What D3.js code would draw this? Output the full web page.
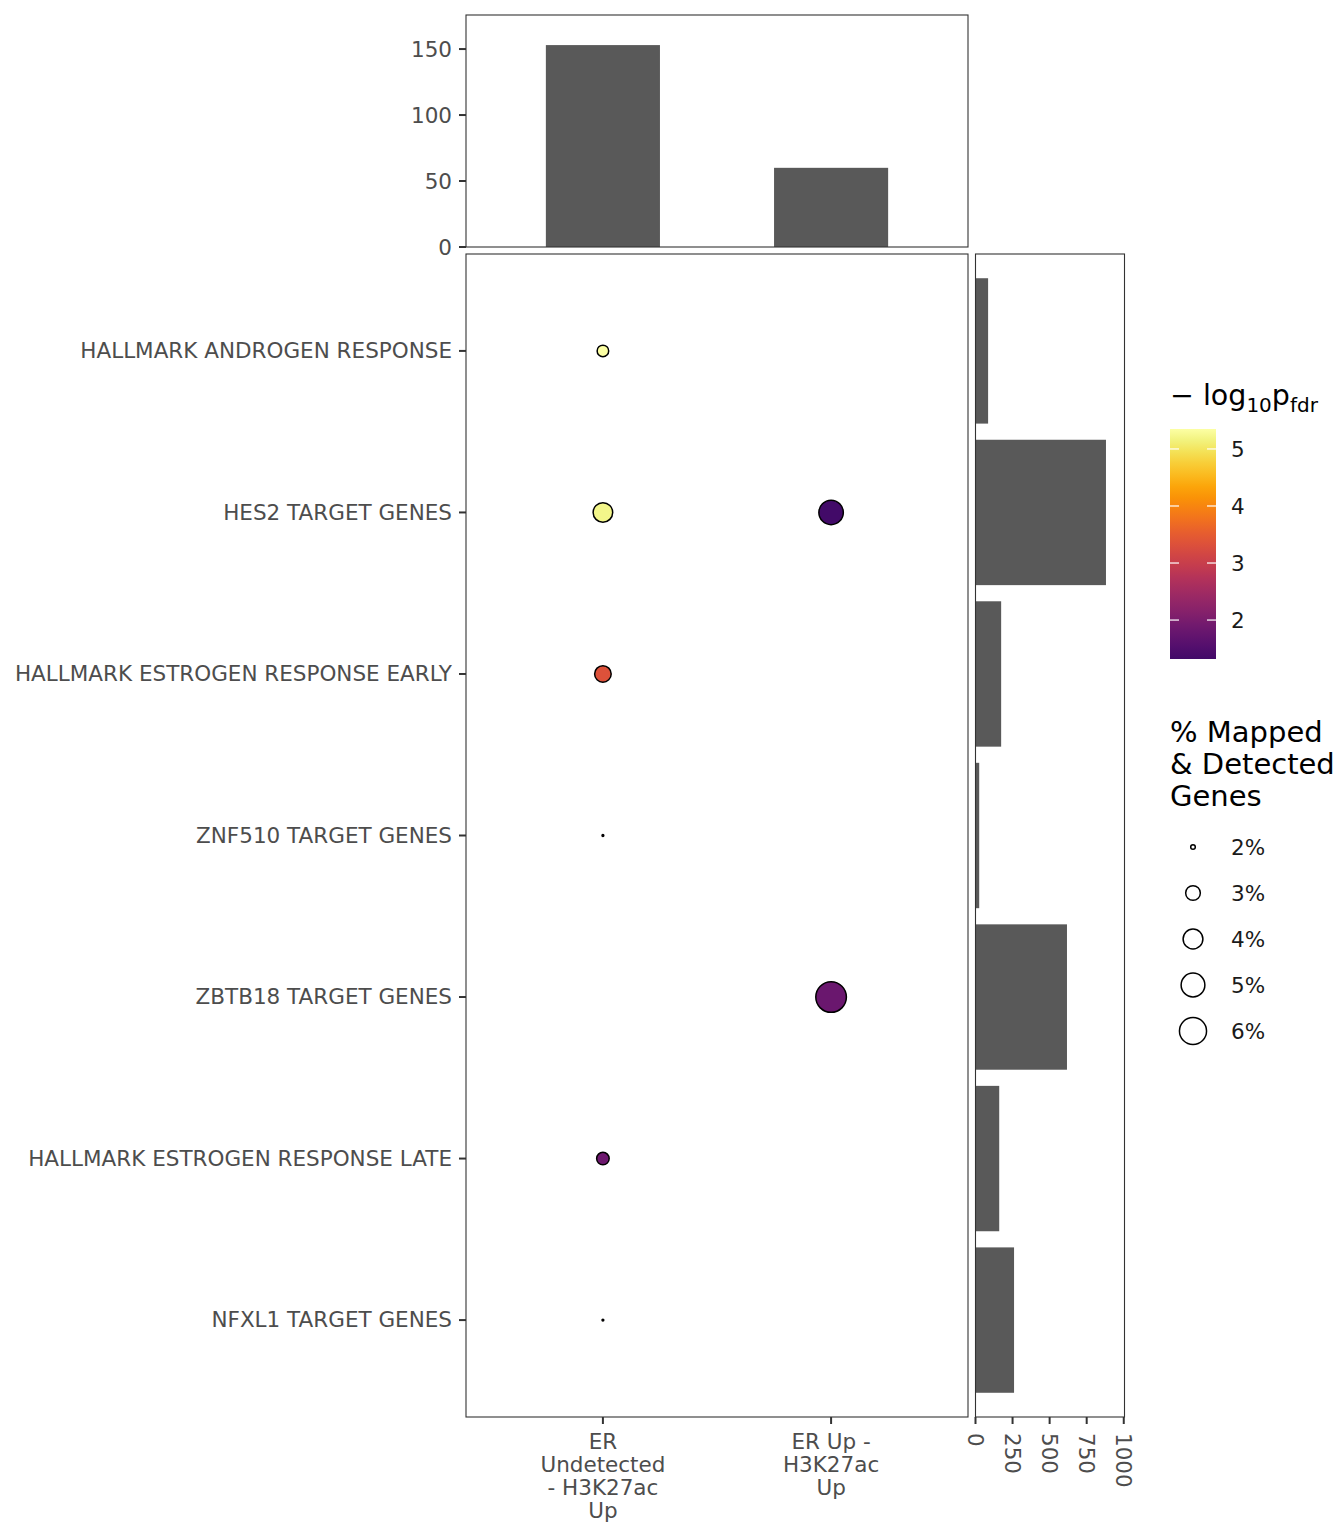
<!DOCTYPE html>
<html><head><meta charset="utf-8">
<script src="https://cdn.jsdelivr.net/npm/d3@7"></script>
<style>body{margin:0;background:#fff}svg text{font-family:"DejaVu Sans",sans-serif}</style>
</head><body><svg id="c" width="1344" height="1536"></svg>
<script>
// ---- data ----
const groups = ["ER Undetected - H3K27ac Up", "ER Up - H3K27ac Up"];
const groupLabelLines = [["ER", "Undetected", "- H3K27ac", "Up"], ["ER Up -", "H3K27ac", "Up"]];
const genesets = ["HALLMARK ANDROGEN RESPONSE", "HES2 TARGET GENES", "HALLMARK ESTROGEN RESPONSE EARLY",
  "ZNF510 TARGET GENES", "ZBTB18 TARGET GENES", "HALLMARK ESTROGEN RESPONSE LATE", "NFXL1 TARGET GENES"];
const groupCounts = [153, 60];
const genesetSizes = [85, 880, 173, 25, 617, 160, 260];
const pointGeneset = ["HALLMARK ANDROGEN RESPONSE", "HES2 TARGET GENES", "HES2 TARGET GENES",
  "HALLMARK ESTROGEN RESPONSE EARLY", "ZNF510 TARGET GENES", "ZBTB18 TARGET GENES",
  "HALLMARK ESTROGEN RESPONSE LATE", "NFXL1 TARGET GENES"];
const pointGroup = [groups[0], groups[0], groups[1], groups[0], groups[0], groups[1], groups[0], groups[0]];
const pointPct = [2.55, 3.95, 5.2, 3.33, 1.95, 7.2, 2.68, 1.95];
const pointLogP = [5.35, 5.2, 1.317, 3.33, 2.6, 1.82, 1.85, 2.6];
const topTicks = [0, 50, 100, 150];
const rightTicks = [0, 250, 500, 750, 1000];
const colorTicks = [2, 3, 4, 5];
const sizeBreaks = [2, 3, 4, 5, 6];

// ---- layout ----
const svg = d3.select("#c");
const P = {l: 466, r: 968, t: 254, b: 1417};
const T = {t: 15, b: 247};
const R = {l: 975.5, r: 1124.5};
const axisCol = "#4d4d4d", tickCol = "#333333", barCol = "#595959";
const fs = 21.5;

const x = d3.scalePoint().domain(groups).range([P.l, P.r]).padding(0.6);
const y = d3.scalePoint().domain(genesets).range([P.t, P.b]).padding(0.6);
const yTop = d3.scaleLinear().domain([0, 175.8]).range([T.b, T.t]);
const xRight = d3.scaleLinear().domain([0, 1005]).range([R.l, R.r]);
const cMin = 1.317, cMax = 5.35;
const color = v => d3.interpolateInferno(0.2 + 0.8 * (v - cMin) / (cMax - cMin));
const pMin = 1.95, pMax = 7.2;
const tSize = d3.scaleLinear().domain([pMin, pMax]).range([0, 1]);
const rSize = d3.scaleSqrt().domain([0, 1]).range([0.9, 15.3]);
const rad = v => rSize(Math.max(0, tSize(v)));

// ---- top bar panel ----
const topG = svg.append("g");
topG.selectAll("rect.bar").data(groups).join("rect")
  .attr("x", d => x(d) - x.step() * 0.25).attr("width", x.step() * 0.5)
  .attr("y", (d, i) => yTop(groupCounts[i])).attr("height", (d, i) => yTop(0) - yTop(groupCounts[i]))
  .attr("fill", barCol);
topG.append("rect").attr("x", P.l).attr("y", T.t).attr("width", P.r - P.l).attr("height", T.b - T.t)
  .attr("fill", "none").attr("stroke", tickCol).attr("stroke-width", 1.1);
topTicks.forEach(t => {
  topG.append("line").attr("x1", P.l - 7).attr("x2", P.l).attr("y1", yTop(t)).attr("y2", yTop(t))
    .attr("stroke", tickCol).attr("stroke-width", 2);
  topG.append("text").attr("x", P.l - 14).attr("y", yTop(t)).attr("dy", "0.36em")
    .attr("text-anchor", "end").attr("font-size", fs).attr("fill", axisCol).text(t);
});

// ---- main panel ----
const mainG = svg.append("g");
mainG.append("rect").attr("x", P.l).attr("y", P.t).attr("width", P.r - P.l).attr("height", P.b - P.t)
  .attr("fill", "none").attr("stroke", tickCol).attr("stroke-width", 1.1);
genesets.forEach(g => {
  mainG.append("line").attr("x1", P.l - 7).attr("x2", P.l).attr("y1", y(g)).attr("y2", y(g))
    .attr("stroke", tickCol).attr("stroke-width", 2);
  mainG.append("text").attr("x", P.l - 14).attr("y", y(g)).attr("dy", "0.33em")
    .attr("text-anchor", "end").attr("font-size", fs).attr("fill", axisCol).text(g);
});
groups.forEach((g, i) => {
  mainG.append("line").attr("x1", x(g)).attr("x2", x(g)).attr("y1", P.b).attr("y2", P.b + 7)
    .attr("stroke", tickCol).attr("stroke-width", 2);
  const tx = mainG.append("text").attr("text-anchor", "middle").attr("font-size", fs).attr("fill", axisCol);
  groupLabelLines[i].forEach((ln, j) => {
    tx.append("tspan").attr("x", x(g)).attr("y", P.b + 32 + j * 23).text(ln);
  });
});
const pts = pointPct.map((p, i) => ({g: pointGroup[i], s: pointGeneset[i], p, c: pointLogP[i]}));
mainG.selectAll("circle.pt").data(pts).join("circle")
  .attr("cx", d => x(d.g)).attr("cy", d => y(d.s)).attr("r", d => rad(d.p))
  .attr("fill", d => color(d.c)).attr("stroke", "#000").attr("stroke-width", 1.5);

// ---- right bar panel ----
const rG = svg.append("g");
rG.selectAll("rect.bar").data(genesets).join("rect")
  .attr("x", xRight(0)).attr("width", (d, i) => xRight(genesetSizes[i]) - xRight(0))
  .attr("y", d => y(d) - y.step() * 0.45).attr("height", y.step() * 0.9).attr("fill", barCol);
rG.append("rect").attr("x", R.l).attr("y", P.t).attr("width", R.r - R.l).attr("height", P.b - P.t)
  .attr("fill", "none").attr("stroke", tickCol).attr("stroke-width", 1.1);
rightTicks.forEach(t => {
  rG.append("line").attr("x1", xRight(t)).attr("x2", xRight(t)).attr("y1", P.b).attr("y2", P.b + 7)
    .attr("stroke", tickCol).attr("stroke-width", 2);
  rG.append("text").attr("transform", `translate(${xRight(t)},${P.b + 16}) rotate(90)`)
    .attr("dy", "0.36em").attr("text-anchor", "start").attr("font-size", fs).attr("fill", axisCol).text(t);
});

// ---- colour legend ----
const L = {x: 1170, w: 46, t: 429, b: 659};
const cy = d3.scaleLinear().domain([cMin, cMax]).range([L.b, L.t]);
const defs = svg.append("defs");
const grad = defs.append("linearGradient").attr("id", "cg").attr("x1", 0).attr("x2", 0).attr("y1", 1).attr("y2", 0);
d3.range(0, 1.0001, 0.05).forEach(t => {
  grad.append("stop").attr("offset", t).attr("stop-color", color(cMin + t * (cMax - cMin)));
});
svg.append("rect").attr("x", L.x).attr("y", L.t).attr("width", L.w).attr("height", L.b - L.t).attr("fill", "url(#cg)");
colorTicks.forEach(t => {
  svg.append("line").attr("x1", L.x).attr("x2", L.x + 9).attr("y1", cy(t)).attr("y2", cy(t)).attr("stroke", "#fff").attr("stroke-width", 1.2);
  svg.append("line").attr("x1", L.x + L.w - 9).attr("x2", L.x + L.w).attr("y1", cy(t)).attr("y2", cy(t)).attr("stroke", "#fff").attr("stroke-width", 1.2);
  svg.append("text").attr("x", 1231).attr("y", cy(t)).attr("dy", "0.36em").attr("font-size", fs).attr("fill", "#1a1a1a").text(t);
});
const ct = svg.append("text").attr("x", 1170).attr("y", 405).attr("font-size", 28.5).attr("fill", "#000");
ct.append("tspan").text("\u2212 log");
ct.append("tspan").attr("font-size", 20).attr("dy", 7).text("10");
ct.append("tspan").attr("dy", -7).text("p");
ct.append("tspan").attr("font-size", 20).attr("dy", 7).text("fdr");

// ---- size legend ----
const st = svg.append("text").attr("font-size", 29).attr("fill", "#000");
["% Mapped", "& Detected", "Genes"].forEach((ln, j) => st.append("tspan").attr("x", 1170).attr("y", 742 + j * 32).text(ln));
sizeBreaks.forEach((b, i) => {
  const yy = 847 + i * 46;
  svg.append("circle").attr("cx", 1193).attr("cy", yy).attr("r", rad(b)).attr("fill", "none").attr("stroke", "#000").attr("stroke-width", 1.5);
  svg.append("text").attr("x", 1231).attr("y", yy).attr("dy", "0.36em").attr("font-size", fs).attr("fill", "#1a1a1a").text(b + "%");
});
</script></body></html>
